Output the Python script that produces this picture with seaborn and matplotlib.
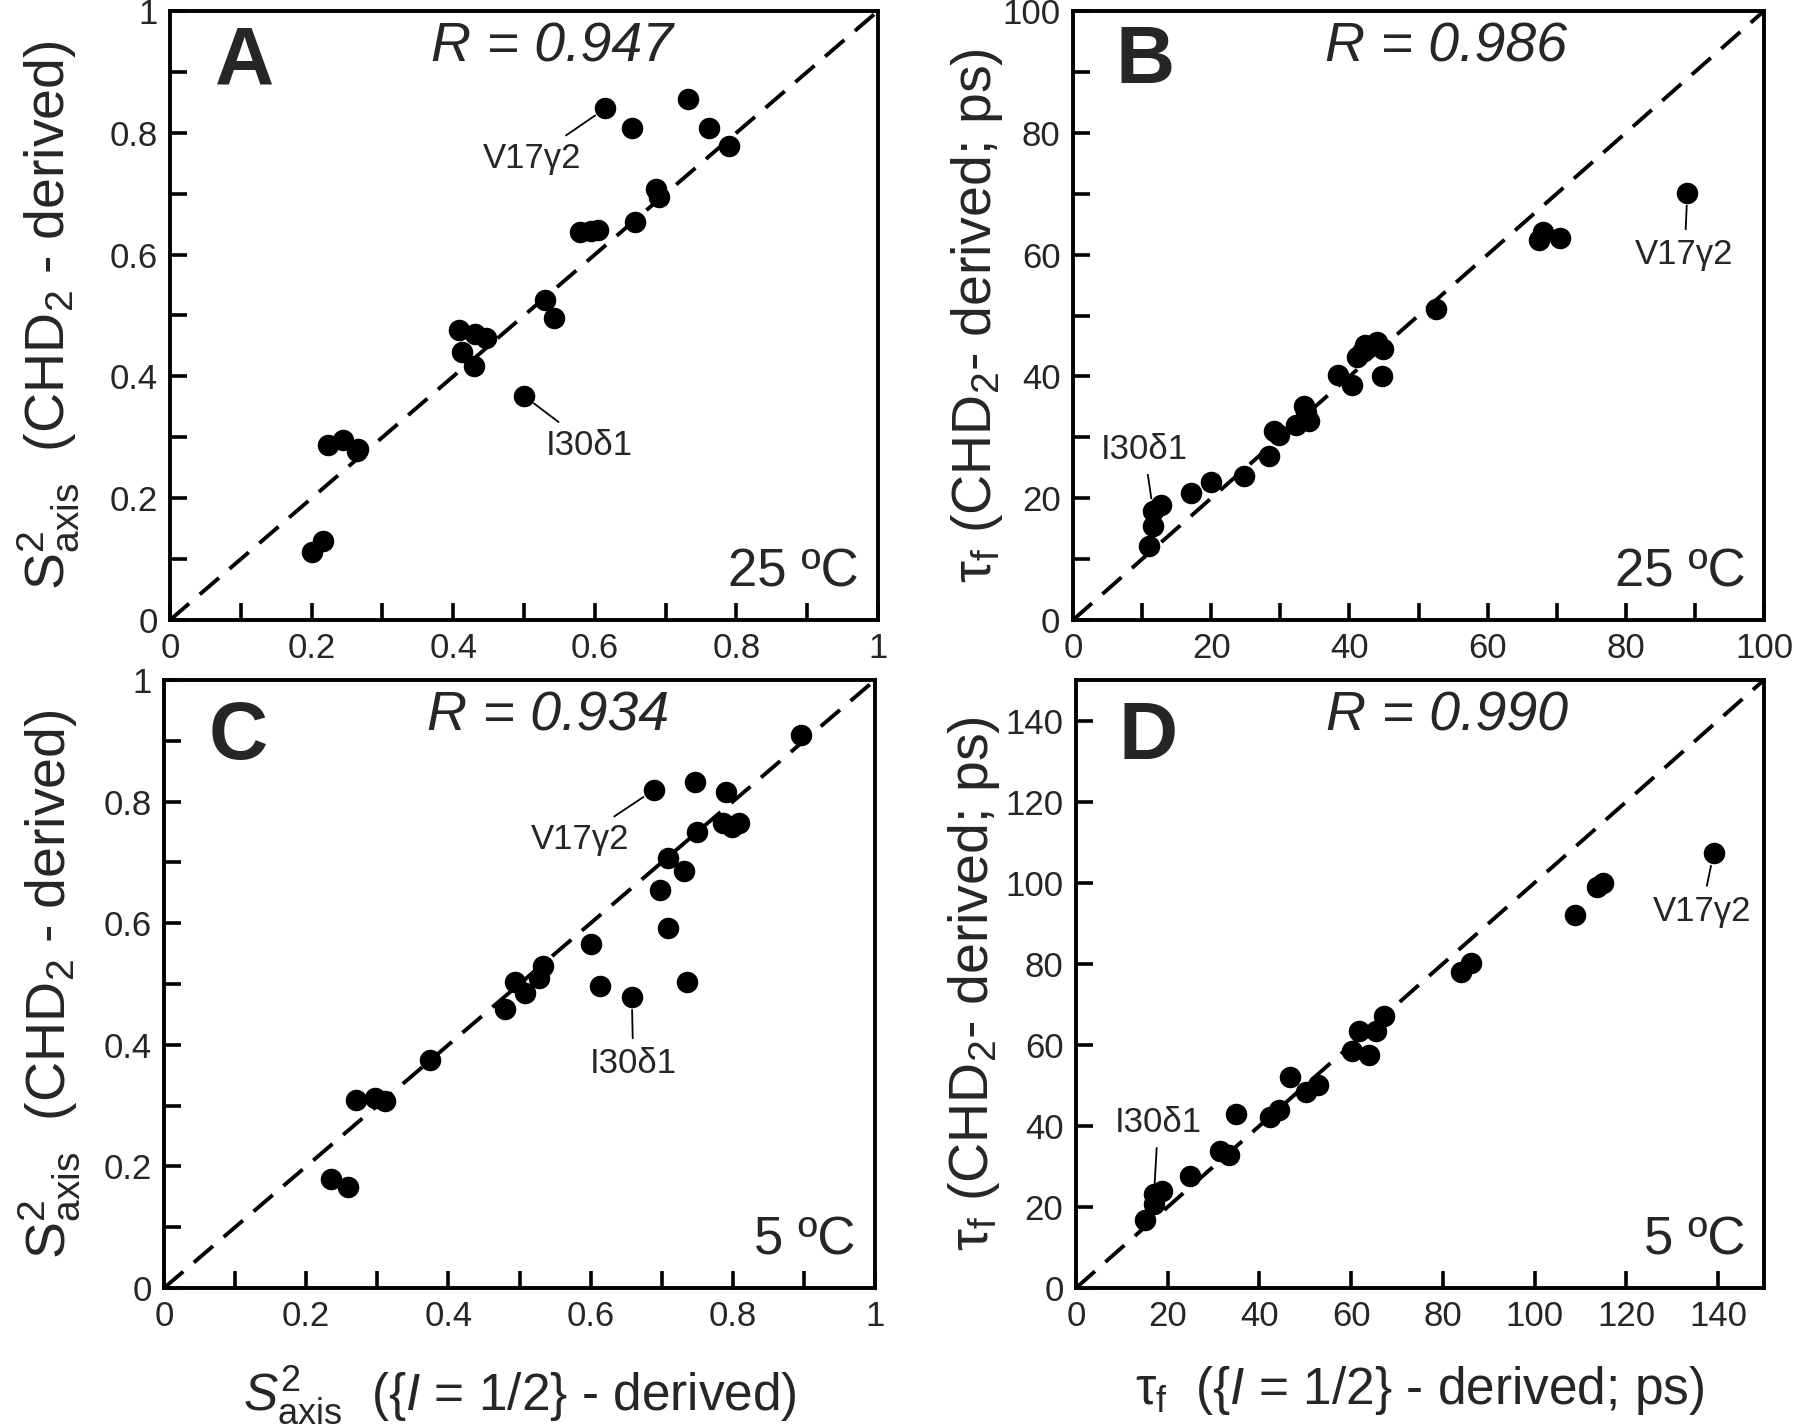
import numpy as np
import pandas as pd
import matplotlib
matplotlib.use("Agg")
import matplotlib.pyplot as plt
from matplotlib.ticker import MultipleLocator, FuncFormatter
import seaborn as sns

# values
# A: S2axis at 25 C
a_x = [0.615, 0.652, 0.731, 0.761, 0.789, 0.686, 0.691, 0.657, 0.579, 0.595,
       0.605, 0.530, 0.542, 0.408, 0.431, 0.446, 0.413, 0.430, 0.500, 0.223,
       0.244, 0.266, 0.264, 0.201, 0.216]
a_y = [0.840, 0.808, 0.855, 0.808, 0.778, 0.707, 0.694, 0.654, 0.637, 0.638,
       0.640, 0.525, 0.496, 0.477, 0.470, 0.463, 0.440, 0.417, 0.368, 0.288,
       0.295, 0.280, 0.277, 0.112, 0.129]

# B: tau_f at 25 C (ps)
b_x = [88.9, 67.5, 68.0, 70.5, 52.5, 42.3, 44.0, 44.9, 41.1, 41.8,
       44.7, 38.4, 40.4, 33.4, 33.7, 34.2, 32.2, 29.1, 29.8, 28.4,
       24.7, 20.0, 17.1, 12.7, 11.6, 11.6, 11.0]
b_y = [70.1, 62.4, 63.7, 62.7, 51.1, 45.2, 45.7, 44.5, 43.2, 44.0,
       40.0, 40.3, 38.6, 35.2, 34.1, 32.7, 32.0, 31.0, 30.3, 27.0,
       23.7, 22.6, 20.9, 18.9, 17.9, 15.5, 12.1]

# C: S2axis at 5 C
c_x = [0.896, 0.747, 0.689, 0.791, 0.786, 0.799, 0.809, 0.749, 0.709, 0.731,
       0.697, 0.709, 0.600, 0.613, 0.658, 0.735, 0.533, 0.528, 0.494, 0.508,
       0.480, 0.374, 0.270, 0.297, 0.311, 0.235, 0.259]
c_y = [0.909, 0.833, 0.819, 0.815, 0.765, 0.758, 0.765, 0.750, 0.708, 0.686,
       0.654, 0.592, 0.565, 0.496, 0.478, 0.504, 0.530, 0.510, 0.504, 0.486,
       0.459, 0.375, 0.310, 0.312, 0.307, 0.179, 0.166]

# D: tau_f at 5 C (ps)
d_x = [139.0, 113.6, 114.9, 108.9, 83.9, 86.2, 67.2, 65.3, 61.8, 60.2,
       63.8, 52.8, 50.1, 46.7, 44.3, 42.4, 34.9, 31.3, 33.3, 24.8,
       18.7, 17.1, 16.9, 15.1]
d_y = [107.2, 99.0, 100.0, 91.9, 78.0, 80.3, 67.2, 63.4, 63.4, 58.4,
       57.4, 50.0, 48.3, 52.1, 44.0, 42.3, 43.0, 33.9, 32.9, 27.7,
       23.9, 23.2, 20.8, 16.8]

letters = ["A", "B", "C", "D"]
r_texts = ["R = 0.947", "R = 0.986", "R = 0.934", "R = 0.990"]
temps = ["25 ºC", "25 ºC", "5 ºC", "5 ºC"]
limits = [1, 100, 1, 150]

# labelled residues: (index of point, text x, text y)
v17 = [(0, 0.512, 0.758), (0, 88.5, 60.0), (2, 0.585, 0.738), (0, 136.4, 93.0)]
i30 = [(18, 0.592, 0.287), (24, 10.3, 28.0), (14, 0.660, 0.369), (22, 17.9, 40.8)]

sns.set_theme(style="ticks")
plt.rcParams["font.family"] = ["Liberation Sans", "DejaVu Sans"]
plt.rcParams["mathtext.fontset"] = "custom"
plt.rcParams["mathtext.rm"] = "Liberation Sans"
plt.rcParams["mathtext.it"] = "Liberation Sans:italic"
plt.rcParams["mathtext.bf"] = "Liberation Sans:bold"

fig = plt.figure(figsize=(18, 14.25), dpi=100)
boxes = [
    [170 / 1800, 1 - 620 / 1425, 708 / 1800, 609 / 1425],
    [1073 / 1800, 1 - 620 / 1425, 691 / 1800, 609 / 1425],
    [164 / 1800, 1 - 1288 / 1425, 711 / 1800, 608 / 1425],
    [1076 / 1800, 1 - 1288 / 1425, 688 / 1800, 608 / 1425],
]
data = [(a_x, a_y), (b_x, b_y), (c_x, c_y), (d_x, d_y)]

s_label = r"$\mathrm{S}^2_{\mathrm{axis}}$  (CHD$_2$ - derived)"
t_label = "τ$_\\mathrm{f}$ (CHD$_2$- derived; ps)"
ylab_x = [-0.125, -0.098, -0.116, -0.107]
letter_y = [0.916, 0.916, 0.905, 0.905]

fmt = FuncFormatter(lambda v, p: "%g" % v)

for i in range(4):
    ax = fig.add_axes(boxes[i])
    xs, ys = data[i]
    df = pd.DataFrame({"x": xs, "y": ys})
    lim = limits[i]
    ax.plot([0, lim], [0, lim], color="black", lw=2.8, ls=(0, (6.5, 3.6)), zorder=1)
    sns.scatterplot(data=df, x="x", y="y", ax=ax, color="black", s=240,
                    edgecolor="black", linewidth=0, zorder=3, legend=False)
    ax.set_xlim(0, lim)
    ax.set_ylim(0, lim)

    if lim == 1:
        ax.xaxis.set_major_locator(MultipleLocator(0.2))
        ax.yaxis.set_major_locator(MultipleLocator(0.2))
        ax.xaxis.set_minor_locator(MultipleLocator(0.1))
        ax.yaxis.set_minor_locator(MultipleLocator(0.1))
    elif lim == 100:
        ax.xaxis.set_major_locator(MultipleLocator(20))
        ax.yaxis.set_major_locator(MultipleLocator(20))
        ax.xaxis.set_minor_locator(MultipleLocator(10))
        ax.yaxis.set_minor_locator(MultipleLocator(10))
    else:
        ax.xaxis.set_major_locator(MultipleLocator(20))
        ax.yaxis.set_major_locator(MultipleLocator(20))
    ax.xaxis.set_major_formatter(fmt)
    ax.yaxis.set_major_formatter(fmt)

    ax.tick_params(which="both", direction="in", length=12, width=2.6,
                   top=False, right=False, labelsize=25, pad=9, color="black")
    for sp in ax.spines.values():
        sp.set_linewidth(2.8)
        sp.set_color("black")

    ax.set_ylabel(s_label if lim == 1 else t_label, fontsize=40)
    ax.yaxis.set_label_coords(ylab_x[i], 0.5)
    if i == 2:
        ax.set_xlabel(r"$S^2_{\mathrm{axis}}$  ({$I$ = 1/2} - derived)", fontsize=37, labelpad=22)
    elif i == 3:
        ax.set_xlabel("τ$_\\mathrm{f}$  ({$I$ = 1/2} - derived; ps)", fontsize=37, labelpad=22)
    else:
        ax.set_xlabel("")

    ax.text(0.105, letter_y[i], letters[i], transform=ax.transAxes, fontsize=59,
            fontweight="bold", ha="center", va="center")
    ax.text(0.54, 0.94, r_texts[i], transform=ax.transAxes,
            fontsize=40, style="italic", ha="center", va="center")
    ax.text(0.973, 0.055, temps[i], transform=ax.transAxes, fontsize=38,
            ha="right", va="baseline")

    for (k, tx, ty), name in [(v17[i], "V17γ2"), (i30[i], "I30δ1")]:
        ax.annotate(name, xy=(xs[k], ys[k]), xytext=(tx, ty), fontsize=25,
                    ha="center", va="center",
                    arrowprops=dict(arrowstyle="-", lw=1.3, color="black",
                                    shrinkA=4, shrinkB=9))

fig.savefig("out.png", dpi=100)
